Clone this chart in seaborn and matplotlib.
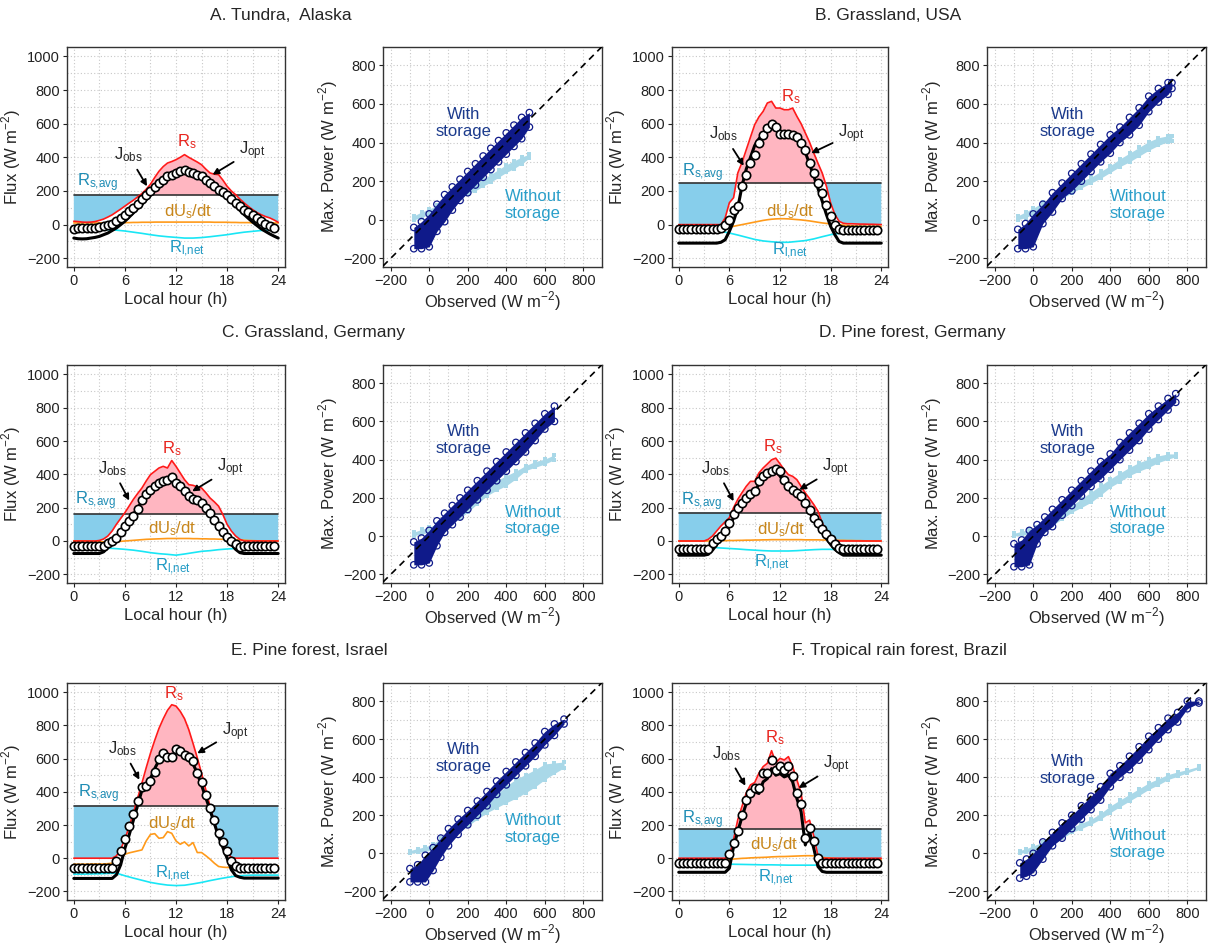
import matplotlib
matplotlib.use("Agg")
import matplotlib.pyplot as plt
import numpy as np
import seaborn as sns
from matplotlib.ticker import MultipleLocator

# ---- diurnal cycles (half-hourly lines 0..24 h, J_obs 0..23.5 h, R_l,net hourly) ----
TITLES = {
    "A": "A. Tundra,  Alaska",
    "B": "B. Grassland, USA",
    "C": "C. Grassland, Germany",
    "D": "D. Pine forest, Germany",
    "E": "E. Pine forest, Israel",
    "F": "F. Tropical rain forest, Brazil",
}

RS_AVG = {"A": 178, "B": 248, "C": 163, "D": 171, "E": 317, "F": 177}

RS = {
    "A": [20, 18, 15, 14, 15, 18, 25, 33, 45, 58, 75, 92, 110, 128, 145, 165, 185, 210, 240, 280,
          317, 345, 366, 375, 386, 400, 416, 400, 386, 372, 356, 330, 307, 300, 297, 265, 228, 200, 178, 152,
          129, 108, 89, 72, 59, 48, 40, 28, 14],
    "B": [0, 0, 0, 0, 0, 0, 0, 0, 0, 0, 0, 40, 130, 160, 307, 370, 445, 520, 594, 640,
          673, 723, 733, 693, 693, 683, 683, 693, 644, 600, 545, 490, 426, 365, 307, 228, 129, 60, 20, 8,
          5, 5, 4, 3, 3, 2, 2, 1, 0],
    "C": [0, 0, 0, 0, 0, 0, 3, 12, 30, 60, 100, 135, 170, 210, 250, 285, 318, 360, 398, 418,
          438, 448, 438, 483, 448, 408, 368, 338, 334, 325, 318, 290, 258, 235, 209, 159, 100, 60, 30, 10,
          0, 0, 0, 0, 0, 0, 0, 0, 0],
    "D": [0, 0, 0, 0, 0, 0, 0, 10, 30, 60, 90, 115, 140, 200, 250, 290, 328, 358, 358, 408,
          438, 462, 487, 497, 463, 428, 398, 388, 368, 328, 288, 255, 219, 179, 109, 60, 20, 4, 0, 0,
          0, 0, 0, 0, 0, 0, 0, 0, 0],
    "E": [0, 0, 0, 0, 0, 0, 0, 0, 0, 0, 14, 54, 114, 190, 273, 363, 453, 545, 632, 710,
          782, 840, 891, 925, 917, 885, 841, 775, 692, 605, 512, 412, 313, 220, 134, 75, 34, 5, 0, 0,
          0, 0, 0, 0, 0, 0, 0, 0, 0],
    "F": [0, 0, 0, 0, 0, 0, 0, 0, 0, 0, 0, 0, 14, 114, 233, 313, 393, 442, 456, 512,
          552, 572, 648, 576, 602, 592, 612, 552, 472, 393, 213, 229, 134, 14, 0, 0, 0, 0, 0, 0,
          0, 0, 0, 0, 0, 0, 0, 0, 0],
}

J_OBS = {
    "A": [-24, -23, -22, -21, -20, -18, -15, -10, -5, 5, 20, 40, 60, 80, 100, 125, 150, 175, 198, 222,
          248, 268, 287, 297, 307, 320, 327, 315, 307, 297, 287, 268, 248, 228, 208, 193, 178, 152, 129, 108,
          89, 74, 60, 40, 20, 5, -10, -20],
    "B": [-28, -28, -28, -28, -28, -28, -28, -28, -28, -28, -22, 0, 30, 89, 109, 228, 297, 366, 416, 485,
          535, 574, 598, 580, 540, 540, 540, 535, 520, 485, 445, 366, 307, 248, 188, 119, 50, 0, -26, -30,
          -30, -30, -30, -30, -30, -30, -30, -30],
    "C": [-32, -32, -32, -32, -32, -32, -32, -32, -14, 0, 20, 54, 90, 120, 150, 190, 248, 280, 308, 328,
          348, 358, 368, 384, 348, 328, 298, 272, 252, 248, 228, 198, 169, 129, 90, 54, 24, 0, -20, -33,
          -30, -30, -30, -30, -30, -30, -30, -30],
    "D": [-46, -46, -46, -46, -46, -46, -46, -46, -14, 10, 30, 60, 110, 160, 200, 230, 260, 285, 300, 358,
          388, 408, 423, 431, 418, 368, 328, 304, 288, 268, 229, 189, 140, 109, 74, 40, 10, -16, -40, -45,
          -45, -45, -45, -45, -45, -45, -45, -45],
    "E": [-60, -60, -60, -60, -60, -60, -60, -60, -60, -60, -16, 44, 114, 193, 267, 347, 427, 437, 468, 522,
          596, 632, 612, 608, 656, 648, 622, 612, 588, 512, 462, 383, 303, 233, 154, 98, 44, -16, -46, -60,
          -60, -60, -60, -60, -60, -60, -60, -60],
    "F": [-30, -30, -30, -30, -30, -30, -30, -30, -30, -30, -30, -30, 24, 94, 164, 263, 353, 393, 423, 423,
          512, 512, 592, 532, 556, 532, 556, 493, 393, 329, 124, 183, 104, 0, -30, -30, -30, -30, -30, -30,
          -30, -30, -30, -30, -30, -30, -30, -30],
}

J_OPT = {
    "A": [-80, -84, -85, -84, -80, -76, -70, -60, -50, -35, -20, 0, 20, 45, 70, 95, 120, 148, 175, 203,
          230, 255, 275, 290, 300, 305, 305, 303, 300, 290, 280, 262, 245, 225, 205, 183, 160, 135, 110, 85,
          60, 37, 15, -5, -25, -40, -55, -68, -80],
    "B": [-110, -110, -110, -110, -110, -110, -110, -110, -110, -110, -105, -90, -40, 20, 100, 230, 330, 400, 470, 510,
          540, 560, 570, 570, 540, 535, 535, 530, 510, 480, 430, 360, 290, 215, 140, 60, -10, -60, -100, -110,
          -110, -110, -110, -110, -110, -110, -110, -110, -110],
    "C": [-75, -75, -75, -75, -75, -75, -75, -65, -40, -10, 20, 55, 90, 125, 160, 200, 235, 270, 300, 320,
          340, 350, 355, 370, 345, 315, 290, 268, 250, 235, 215, 190, 160, 120, 80, 45, 10, -20, -50, -70,
          -75, -75, -75, -75, -75, -75, -75, -75, -75],
    "D": [-85, -85, -85, -85, -85, -85, -85, -80, -55, -20, 10, 50, 90, 140, 190, 220, 250, 280, 300, 340,
          380, 400, 420, 420, 390, 350, 320, 300, 280, 250, 220, 175, 130, 90, 50, 15, -20, -50, -70, -85,
          -85, -85, -85, -85, -85, -85, -85, -85, -85],
    "E": [-122, -122, -122, -122, -122, -122, -122, -122, -122, -122, -100, -40, 60, 140, 230, 320, 410, 440, 480, 540,
          590, 610, 600, 605, 640, 635, 615, 600, 570, 510, 440, 365, 290, 210, 130, 65, 0, -70, -105, -115,
          -120, -120, -120, -120, -120, -120, -120, -120, -120],
    "F": [-85, -85, -85, -85, -85, -85, -85, -85, -85, -85, -85, -85, -60, 70, 160, 250, 330, 370, 400, 390,
          460, 480, 540, 500, 510, 490, 500, 460, 360, 280, 80, 160, 60, -50, -80, -85, -85, -85, -85, -85,
          -85, -85, -85, -85, -85, -85, -85, -85, -85],
}

DU_DT = {
    "A": [10, 10, 10, 10, 10, 10, 10, 10, 10, 10, 10, 11, 12, 12, 13, 13, 14, 14, 14, 15,
          15, 15, 15, 15, 15, 15, 15, 15, 15, 15, 15, 15, 15, 14, 14, 14, 14, 13, 13, 12,
          12, 12, 11, 11, 11, 10, 10, 10, 10],
    "B": [-10, -10, -10, -10, -10, -10, -10, -10, -10, -10, -10, -12, -15, -10, -5, 0, 5, 10, 15, 20,
          25, 29, 32, 34, 35, 35, 34, 32, 30, 28, 25, 22, 18, 14, 10, 7, 5, 2, 0, -3,
          -5, -7, -8, -9, -10, -10, -10, -10, -10],
    "C": [0, 0, 0, 0, -2, -3, -4, -5, -5, -5, -4, -2, 0, 2, 4, 6, 8, 10, 11, 12,
          13, 14, 15, 15, 15, 15, 15, 15, 14, 14, 13, 13, 12, 12, 11, 10, 10, 9, 8, 6,
          5, 3, 2, 1, 0, 0, 0, 0, 0],
    "D": [0, 0, 0, 0, 0, 0, 0, 0, 0, 1, 2, 2, 3, 3, 4, 4, 5, 5, 6, 6,
          7, 7, 8, 8, 8, 8, 8, 8, 8, 8, 7, 7, 7, 7, 6, 6, 5, 5, 4, 4,
          3, 3, 2, 2, 1, 1, 0, 0, 0],
    "E": [-36, -36, -36, -36, -35, -35, -35, -35, -33, -30, -26, -10, 24, 32, 38, 44, 50, 104, 143, 148,
          120, 124, 160, 150, 104, 84, 98, 74, 94, 34, 34, 15, -6, -30, -50, -54, -56, -56, -56, -55,
          -55, -54, -53, -52, -50, -50, -48, -47, -46],
    "F": [-6, -6, -6, -6, -6, -6, -6, -6, -6, -6, -6, -6, -6, -5, -3, -1, 0, 2, 3, 4,
          5, 6, 8, 9, 10, 10, 11, 12, 13, 14, 15, 15, 14, 10, 5, 2, 0, -2, -4, -5,
          -6, -7, -8, -8, -9, -9, -10, -10, -10],
}

RL_NET = {
    "A": [-25, -26, -27, -28, -30, -33, -38, -45, -52, -60, -67, -72, -76, -80, -80, -77, -72, -66, -60, -52,
          -45, -40, -35, -32, -30],
    "B": [-35, -35, -36, -37, -38, -40, -50, -62, -75, -88, -97, -102, -105, -105, -100, -95, -85, -72, -60, -52,
          -46, -43, -41, -40, -40],
    "C": [-40, -40, -40, -41, -43, -46, -50, -55, -62, -70, -76, -80, -85, -78, -70, -62, -58, -52, -48, -45,
          -43, -42, -41, -40, -40],
    "D": [-36, -36, -36, -37, -38, -42, -45, -48, -52, -55, -58, -60, -60, -60, -58, -55, -52, -50, -50, -52,
          -52, -50, -50, -50, -50],
    "E": [-96, -96, -95, -94, -92, -90, -106, -120, -133, -146, -155, -162, -165, -163, -155, -146, -135, -125, -116, -108,
          -104, -102, -102, -102, -102],
    "F": [-36, -36, -36, -36, -36, -36, -36, -37, -38, -39, -40, -40, -41, -42, -42, -42, -42, -40, -40, -40,
          -40, -40, -40, -40, -40],
}

# ---- max. power vs observed: band edges ----
OBS = {
    "A": [-80, -40, 0, 40, 80, 120, 160, 200, 240, 280, 320, 360, 400, 440, 480, 520],
    "B": [-80, -40, 0, 50, 100, 150, 200, 250, 300, 350, 400, 450, 500, 550, 600, 650, 700, 720],
    "C": [-80, -40, 0, 40, 80, 120, 160, 200, 250, 300, 350, 400, 450, 500, 550, 600, 650],
    "D": [-100, -60, -20, 20, 60, 100, 150, 200, 250, 300, 350, 400, 450, 500, 550, 600, 650, 700, 740],
    "E": [-100, -60, -20, 20, 60, 100, 150, 200, 250, 300, 350, 400, 450, 500, 550, 600, 650, 700],
    "F": [-70, -35, 0, 50, 100, 150, 200, 250, 300, 350, 400, 450, 500, 550, 600, 650, 700, 750, 800, 860],
}
WITH_LO = {
    "A": [-150, -150, -140, -60, -10, 50, 100, 140, 180, 220, 260, 300, 340, 380, 420, 480],
    "B": [-150, -150, -140, -20, 40, 110, 150, 200, 250, 300, 345, 400, 440, 490, 560, 610, 650, 680],
    "C": [-150, -150, -140, -50, 20, 60, 100, 140, 190, 240, 290, 340, 390, 440, 500, 560, 600],
    "D": [-160, -160, -150, -40, 20, 50, 110, 160, 210, 260, 300, 350, 400, 450, 500, 560, 610, 660, 700],
    "E": [-150, -150, -150, -90, -20, 40, 100, 150, 200, 250, 310, 360, 410, 460, 510, 570, 620, 680],
    "F": [-130, -120, -100, -30, 40, 80, 130, 180, 230, 280, 350, 400, 440, 490, 545, 600, 650, 690, 760, 790],
}
WITH_HI = {
    "A": [-40, -10, 30, 80, 130, 170, 210, 250, 290, 330, 370, 410, 450, 490, 530, 555],
    "B": [-50, -20, 30, 80, 140, 190, 240, 290, 340, 390, 440, 480, 530, 580, 640, 680, 710, 710],
    "C": [-30, -10, 30, 80, 120, 160, 200, 240, 290, 340, 390, 440, 490, 540, 590, 640, 680],
    "D": [-40, -20, 30, 60, 100, 140, 190, 240, 290, 340, 390, 430, 490, 540, 590, 640, 680, 720, 745],
    "E": [-80, -60, -10, 30, 80, 130, 180, 225, 275, 325, 380, 430, 480, 530, 580, 640, 680, 705],
    "F": [-50, -30, 0, 60, 110, 160, 200, 250, 300, 350, 420, 460, 510, 560, 615, 660, 710, 740, 800, 800],
}
WITHOUT_LO = {
    "A": [0, 10, 30, 45, 65, 85, 110, 135, 150, 175, 195, 220, 245, 265, 290, 320],
    "B": [0, 10, 30, 50, 80, 110, 140, 165, 190, 215, 245, 275, 300, 330, 360, 385, 405, 410],
    "C": [3, 10, 21, 35, 55, 70, 95, 125, 170, 212, 240, 264, 300, 343, 360, 377, 400],
    "D": [0, 5, 10, 25, 40, 56, 90, 125, 150, 177, 215, 256, 285, 317, 340, 360, 385, 403, 415],
    "E": [0, 5, 10, 20, 45, 75, 110, 144, 180, 214, 240, 266, 290, 318, 350, 388, 420, 450],
    "F": [0, 5, 14, 30, 49, 80, 110, 130, 153, 180, 214, 245, 275, 305, 336, 360, 388, 405, 423, 445],
}
WITHOUT_HI = {
    "A": [20, 40, 55, 75, 95, 115, 140, 165, 185, 210, 235, 260, 285, 305, 325, 340],
    "B": [20, 40, 60, 90, 115, 145, 175, 200, 220, 250, 280, 315, 345, 375, 405, 425, 435, 435],
    "C": [21, 35, 47, 65, 95, 115, 150, 177, 220, 264, 290, 316, 340, 369, 390, 403, 425],
    "D": [15, 25, 35, 50, 70, 90, 125, 160, 195, 230, 265, 299, 330, 360, 385, 403, 420, 430, 430],
    "E": [15, 25, 35, 50, 80, 110, 155, 197, 230, 266, 310, 353, 390, 414, 440, 470, 475, 480],
    "F": [15, 25, 40, 58, 75, 105, 136, 158, 179, 210, 249, 280, 310, 340, 370, 392, 414, 428, 440, 457],
}

# label anchors (data coords): Rs, Jobs text -> tip, Jopt text -> tip, Rs,avg, dU/dt, Rl,net
LABELS = {
    "A": dict(rs=(13.3, 495), jobs=((6.4, 416), (8.6, 228)), jopt=((21.0, 441), (16.3, 297)),
              avg=(2.8, 248), du=(13.4, 79), rl=(13.3, -145)),
    "B": dict(rs=(13.25, 762), jobs=((5.3, 539), (7.7, 350)), jopt=((20.5, 539), (15.7, 425)),
              avg=(2.8, 311), du=(13.2, 79), rl=(13.2, -158)),
    "C": dict(rs=(11.5, 557), jobs=((4.5, 437), (6.5, 243)), jopt=((18.4, 437), (13.9, 298)),
              avg=(2.6, 243), du=(11.5, 75), rl=(11.6, -155)),
    "D": dict(rs=(11.2, 567), jobs=((4.4, 437), (6.5, 239)), jopt=((18.6, 437), (14.3, 308)),
              avg=(2.75, 235), du=(12.1, 70), rl=(11.1, -133)),
    "E": dict(rs=(11.75, 994), jobs=((5.7, 661), (7.7, 473)), jopt=((18.95, 765), (14.5, 632)),
              avg=(2.95, 387), du=(11.55, 207), rl=(11.6, -92)),
    "F": dict(rs=(11.35, 728), jobs=((5.7, 632), (7.9, 437)), jopt=((18.7, 562), (14.2, 423)),
              avg=(2.8, 233), du=(11.35, 80), rl=(11.5, -116)),
}
STORAGE_TEXT = {
    "A": ((176, 500), (538, 75)), "B": ((177, 500), (543, 75)), "C": ((176, 504), (538, 82)),
    "D": ((177, 504), (543, 82)), "E": ((176, 500), (538, 127)), "F": ((177, 438), (543, 49)),
}

# layout in pixels of the 1208x946 canvas
W, H = 1208, 946
COL_X = [67, 383, 672, 987]
COL_W = [218, 219, 216, 219]
ROW_Y = [47, 365, 683]
ROW_H = [220, 218, 217]
TITLE_POS = {"A": (281, 15), "B": (888, 15), "C": (314, 333), "D": (912, 333), "E": (309, 650), "F": (899, 650)}
GRID = {"A": (0, 0), "B": (0, 2), "C": (1, 0), "D": (1, 2), "E": (2, 0), "F": (2, 2)}

PINK = "#ffb6c1"
SKY = "#87ceeb"
RED = "#ff1a1a"
ORANGE = "#ff9a1a"
CYAN = "#19e6f5"
NAVY = "#0f1a8a"
LIGHT = "#a9d8e8"

sns.set_style("white")
plt.rcParams["font.family"] = ["Liberation Sans", "DejaVu Sans"]
plt.rcParams["mathtext.fontset"] = "custom"
plt.rcParams["mathtext.rm"] = "Liberation Sans"

UNIT = r"(W m$^{\mathregular{-2}}$)"


def style_axes(ax, xminor, yminor):
    ax.xaxis.set_minor_locator(MultipleLocator(xminor))
    ax.yaxis.set_minor_locator(MultipleLocator(yminor))
    ax.grid(which="both", linestyle=(0, (1, 2)), color="#c8c8c8", linewidth=0.8)
    ax.set_axisbelow(True)
    ax.tick_params(which="major", direction="out", length=3, width=0.8, labelsize=10.5,
                   pad=2, bottom=True, left=True, top=False, right=False, colors="#222222")
    ax.tick_params(which="minor", length=0)
    for sp in ax.spines.values():
        sp.set_color("#333333")
        sp.set_linewidth(1.0)


def draw_diurnal(ax, key):
    rs = np.array(RS[key], dtype=float)
    t = np.linspace(0, 24, len(rs))
    t_obs = np.arange(len(J_OBS[key])) * 0.5
    t_rl = np.linspace(0, 24, len(RL_NET[key]))
    avg = RS_AVG[key]

    ax.fill_between(t, rs, avg, where=rs >= avg, interpolate=True, color=PINK, linewidth=0)
    ax.fill_between(t, rs, avg, where=rs <= avg, interpolate=True, color=SKY, linewidth=0)
    sns.lineplot(x=[0, 24], y=[avg, avg], ax=ax, color="#333333", linewidth=1.2)
    sns.lineplot(x=t, y=DU_DT[key], ax=ax, color=ORANGE, linewidth=1.2)
    sns.lineplot(x=t_rl, y=RL_NET[key], ax=ax, color=CYAN, linewidth=1.2)
    sns.lineplot(x=t, y=rs, ax=ax, color=RED, linewidth=1.2)
    sns.lineplot(x=t, y=J_OPT[key], ax=ax, color="black", linewidth=2.2)
    sns.scatterplot(x=t_obs, y=J_OBS[key], ax=ax, s=36, facecolor="white",
                    edgecolor="black", linewidth=1.2, zorder=5)

    lab = LABELS[key]
    fs = 12
    ax.text(*lab["rs"], r"$\mathregular{R_s}$", color="#e8251e", fontsize=fs, ha="center", va="center")
    ax.text(*lab["avg"], r"$\mathregular{R_{s{,}avg}}$", color="#1f8db5", fontsize=fs, ha="center", va="center")
    ax.text(*lab["du"], r"$\mathregular{dU_s/dt}$", color="#c8861a", fontsize=fs, ha="center", va="center")
    ax.text(*lab["rl"], r"$\mathregular{R_{l{,}net}}$", color="#1f9ac4", fontsize=fs, ha="center", va="center")
    arrow = dict(arrowstyle="-|>", color="black", lw=1.3, mutation_scale=9, shrinkA=2, shrinkB=0)
    ax.annotate(r"$\mathregular{J_{obs}}$", xy=lab["jobs"][1], xytext=lab["jobs"][0],
                fontsize=fs, ha="center", va="center", arrowprops=arrow, zorder=6)
    ax.annotate(r"$\mathregular{J_{opt}}$", xy=lab["jopt"][1], xytext=lab["jopt"][0],
                fontsize=fs, ha="center", va="center", arrowprops=arrow, zorder=6)

    ax.set_xlim(-0.8, 24.8)
    ax.set_ylim(-252, 1056)
    ax.set_xticks([0, 6, 12, 18, 24])
    ax.set_yticks(range(-200, 1001, 200))
    style_axes(ax, 3, 100)
    ax.set_xlabel("Local hour (h)", fontsize=12, labelpad=3)
    ax.set_ylabel("Flux " + UNIT, fontsize=12, labelpad=3)


def draw_scatter(ax, key):
    x = OBS[key]
    ax.fill_between(x, WITHOUT_LO[key], WITHOUT_HI[key], color=LIGHT, linewidth=0)
    for edge in (WITHOUT_LO[key], WITHOUT_HI[key]):
        sns.scatterplot(x=x, y=edge, ax=ax, marker="s", s=9, color=LIGHT, linewidth=0)
    ax.fill_between(x, WITH_LO[key], WITH_HI[key], color=NAVY, linewidth=0)
    for edge in (WITH_LO[key], WITH_HI[key]):
        sns.scatterplot(x=x, y=edge, ax=ax, s=22, facecolor="none", edgecolor=NAVY, linewidth=0.9)
    ax.axline((0, 0), slope=1, color="black", linestyle=(0, (4, 3)), linewidth=1.2, zorder=6)

    (wx, wy), (ox, oy) = STORAGE_TEXT[key]
    ax.text(wx, wy, "With\nstorage", color="#1b3a8c", fontsize=12, ha="center", va="center", linespacing=1.15)
    ax.text(ox, oy, "Without\nstorage", color="#2a9fca", fontsize=12, ha="center", va="center", linespacing=1.15)

    ax.set_xlim(-240, 897)
    ax.set_ylim(-245, 895)
    ax.set_xticks(range(-200, 801, 200))
    ax.set_yticks(range(-200, 801, 200))
    style_axes(ax, 100, 100)
    ax.set_xlabel("Observed " + UNIT, fontsize=12, labelpad=1)
    ax.set_ylabel("Max. Power " + UNIT, fontsize=12, labelpad=2)


fig = plt.figure(figsize=(W / 100, H / 100), dpi=100)

for key, (row, col) in GRID.items():
    for k, draw in enumerate((draw_diurnal, draw_scatter)):
        c = col + k
        rect = [COL_X[c] / W, 1 - (ROW_Y[row] + ROW_H[row]) / H, COL_W[c] / W, ROW_H[row] / H]
        ax = fig.add_axes(rect)
        draw(ax, key)
    tx, ty = TITLE_POS[key]
    fig.text(tx / W, 1 - ty / H, TITLES[key], ha="center", va="center", fontsize=12.5)

fig.savefig("out.png", dpi=100)
